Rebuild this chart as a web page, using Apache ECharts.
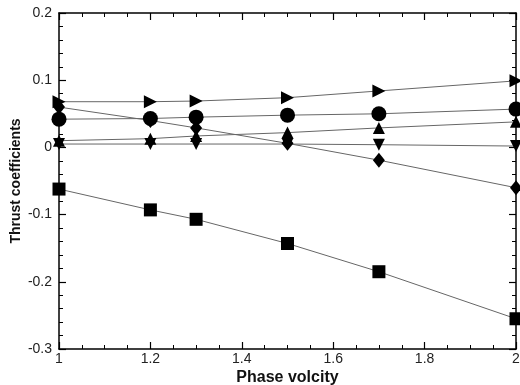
<!DOCTYPE html>
<html>
<head>
<meta charset="utf-8">
<script src="https://cdn.jsdelivr.net/npm/echarts@6/dist/echarts.min.js"></script>
<style>
  html, body { margin: 0; padding: 0; background: #fff; }
  #thrust-chart { width: 520px; height: 385px; }
</style>
</head>
<body>
<div id="thrust-chart"></div>
<script>
// x positions (phase velocity)
const phaseVelocity = [1, 1.2, 1.3, 1.5, 1.7, 2];

// thrust coefficients, one array per marker
const rightTri = [0.068, 0.068, 0.069, 0.074, 0.084, 0.099];
const circles  = [0.042, 0.043, 0.045, 0.048, 0.050, 0.057];
const upTri    = [0.010, 0.013, 0.017, 0.022, 0.029, 0.038];
const downTri  = [0.005, 0.005, 0.005, 0.005, 0.004, 0.002];
const diamonds = [0.060, 0.040, 0.029, 0.006, -0.019, -0.060];
const squares  = [-0.062, -0.093, -0.107, -0.143, -0.185, -0.255];

const xTicks = [1, 1.2, 1.4, 1.6, 1.8, 2];
const yTicks = [-0.3, -0.2, -0.1, 0, 0.1, 0.2];

const pairs = (ys) => phaseVelocity.map((x, i) => [x, ys[i]]);

const lineSeries = (name, ys, symbol, size, rotate) => ({
  name: name,
  type: 'line',
  data: pairs(ys),
  symbol: symbol,
  symbolSize: size,
  symbolRotate: rotate || 0,
  clip: false,
  lineStyle: { color: '#666', width: 1 },
  itemStyle: { color: '#000' },
  emphasis: { disabled: true },
  z: 3
});

const axisCommon = {
  axisLine: { show: true, onZero: false, lineStyle: { color: '#000', width: 1.5 } },
  axisTick: { show: true, inside: true, length: 7, lineStyle: { color: '#000', width: 1.2 } },
  minorTick: { show: true, length: 4, lineStyle: { color: '#000', width: 1 } },
  splitLine: { show: false }
};

const option = {
  animation: false,
  grid: { left: 59, right: 4, top: 13, bottom: 36, outerBoundsMode: 'none', containLabel: false },
  xAxis: [
    {
      ...axisCommon,
      type: 'value',
      min: 1, max: 2, interval: 0.2,
      minorTick: { ...axisCommon.minorTick, splitNumber: 4 },
      axisLabel: {
        color: '#222', fontSize: 14, fontFamily: 'Liberation Sans', margin: 3,
        formatter: (v) => (xTicks.some(t => Math.abs(t - v) < 1e-9) ? String(+v.toFixed(1)) : '')
      },
      name: 'Phase volcity',
      nameLocation: 'middle',
      nameGap: 21,
      nameMoveOverlap: false,
      nameTextStyle: { color: '#111', fontSize: 16, fontWeight: 'bold', fontFamily: 'Liberation Sans' }
    },
    {
      ...axisCommon,
      type: 'value',
      position: 'top',
      min: 1, max: 2, interval: 0.2,
      minorTick: { ...axisCommon.minorTick, splitNumber: 4 },
      axisLabel: { show: false }
    }
  ],
  yAxis: [
    {
      ...axisCommon,
      type: 'value',
      min: -0.3, max: 0.2, interval: 0.1,
      minorTick: { ...axisCommon.minorTick, splitNumber: 5 },
      axisLabel: {
        color: '#222', fontSize: 14, fontFamily: 'Liberation Sans', margin: 7,
        formatter: (v) => {
          const t = yTicks.find(t => Math.abs(t - v) < 1e-9);
          return t === undefined ? '' : (t === 0 ? '0' : String(t));
        }
      },
      name: 'Thrust coefficients',
      nameLocation: 'middle',
      nameGap: 36,
      nameMoveOverlap: false,
      nameTextStyle: { color: '#111', fontSize: 14, fontWeight: 'bold', fontFamily: 'Liberation Sans' }
    },
    {
      ...axisCommon,
      type: 'value',
      position: 'right',
      min: -0.3, max: 0.2, interval: 0.1,
      minorTick: { ...axisCommon.minorTick, splitNumber: 5 },
      axisLabel: { show: false }
    }
  ],
  series: [
    lineSeries('right', rightTri, 'triangle', 13, -90),
    lineSeries('circle', circles, 'circle', 15),
    lineSeries('up', upTri, 'triangle', 12),
    lineSeries('down', downTri, 'triangle', 12, 180),
    lineSeries('diamond', diamonds, 'diamond', [12, 15]),
    lineSeries('square', squares, 'rect', 13)
  ]
};

const myChart = echarts.init(document.getElementById('thrust-chart'));
myChart.setOption(option);
</script>
</body>
</html>
